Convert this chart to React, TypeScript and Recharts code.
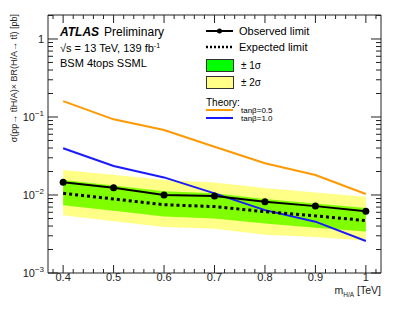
import React from "react";
import { ComposedChart, Line, Area, XAxis, YAxis } from "recharts";

// masses [TeV]
const masses = [0.4, 0.5, 0.6, 0.7, 0.8, 0.9, 1.0];
// limits [pb]
const observed = [0.0146, 0.0124, 0.0100, 0.0097, 0.0082, 0.0072, 0.0062];
const expected = [0.0105, 0.0089, 0.0075, 0.0071, 0.0061, 0.0054, 0.0047];
const plus1 = [0.0156, 0.0132, 0.0112, 0.0105, 0.0089, 0.0078, 0.0068];
const minus1 = [0.0074, 0.0063, 0.0053, 0.0050, 0.0043, 0.0038, 0.0034];
const plus2 = [0.0209, 0.0182, 0.0156, 0.0145, 0.0123, 0.0108, 0.0095];
const minus2 = [0.0055, 0.0046, 0.0039, 0.0037, 0.0031, 0.0029, 0.0026];
// theory
const tanb05 = [0.160, 0.0933, 0.068, 0.0416, 0.0255, 0.018, 0.0103];
const tanb10 = [0.0397, 0.0235, 0.0168, 0.0105, 0.0064, 0.00455, 0.00257];

const xTicks: number[] = [];
for (let i = 19; i <= 51; i++) xTicks.push(i / 50);
const yTicks: number[] = [];
[0.001, 0.01, 0.1, 1].forEach((d) => {
    for (let k = 1; k <= 9; k++) if (d * k <= 2) yTicks.push(d * k);
});

const data = masses.map((m, i) => ({
    m,
    obs: observed[i],
    exp: expected[i],
    band1: [minus1[i], plus1[i]],
    band2: [minus2[i], plus2[i]],
    t05: tanb05[i],
    t10: tanb10[i],
}));

const FONT = "'Liberation Sans', Arial, sans-serif";
const AX = "#222";

const isMajorX = (v: number) => Math.abs(v * 10 - Math.round(v * 10)) < 1e-6 && v >= 0.39 && v <= 1.01;
const isDecade = (v: number) => Math.abs(Math.log10(v) - Math.round(Math.log10(v))) < 1e-6;

const BottomTick = (props: any) => {
    const { x, y, payload } = props;
    const major = isMajorX(payload.value);
    return (
        <g>
            <line x1={x} x2={x} y1={y} y2={y - (major ? 8 : 4)} stroke={AX} strokeWidth={1} />
            {major && (
                <text x={x} y={y + 8} textAnchor="middle" fontSize={11} fill={AX} fontFamily={FONT}>
                    {Math.abs(payload.value - 1) < 1e-6 ? "1" : payload.value.toFixed(1)}
                </text>
            )}
        </g>
    );
};

const TopTick = (props: any) => {
    const { x, y, payload } = props;
    const major = isMajorX(payload.value);
    return <line x1={x} x2={x} y1={y} y2={y + (major ? 8 : 4)} stroke={AX} strokeWidth={1} />;
};

const LeftTick = (props: any) => {
    const { x, y, payload } = props;
    const v = payload.value;
    const major = isDecade(v);
    const exp = Math.round(Math.log10(v));
    return (
        <g>
            <line x1={x} x2={x + (major ? 10 : 5)} y1={y} y2={y} stroke={AX} strokeWidth={1} />
            {major && (
                <text x={x - 4} y={y + 4} textAnchor="end" fontSize={11} fill={AX} fontFamily={FONT}>
                    {exp === 0 ? (
                        "1"
                    ) : (
                        <>
                            10<tspan dy={-5} fontSize={8}>{"\u2212" + -exp}</tspan>
                        </>
                    )}
                </text>
            )}
        </g>
    );
};

const RightTick = (props: any) => {
    const { x, y, payload } = props;
    const major = isDecade(payload.value);
    return <line x1={x} x2={x - (major ? 10 : 5)} y1={y} y2={y} stroke={AX} strokeWidth={1} />;
};

export default function App() {
    return (
        <div style={{ position: "absolute", left: 0, top: 0, width: 402, height: 319, background: "#fff" }}>
            <ComposedChart
                width={402}
                height={319}
                data={data}
                margin={{ top: 14, right: 20, bottom: 45, left: 47 }}
            >
                <XAxis
                    xAxisId="b"
                    dataKey="m"
                    type="number"
                    domain={[0.37, 1.03]}
                    allowDataOverflow
                    ticks={xTicks}
                    interval={0}
                    tick={<BottomTick />}
                    tickLine={false}
                    tickSize={0}
                    tickMargin={0}
                    height={1}
                    stroke={AX}
                />
                <XAxis
                    xAxisId="t"
                    dataKey="m"
                    type="number"
                    orientation="top"
                    domain={[0.37, 1.03]}
                    allowDataOverflow
                    ticks={xTicks}
                    interval={0}
                    tick={<TopTick />}
                    tickLine={false}
                    tickSize={0}
                    tickMargin={0}
                    height={1}
                    stroke={AX}
                />
                <YAxis
                    yAxisId="l"
                    scale="log"
                    type="number"
                    domain={[0.001, 2.03]}
                    allowDataOverflow
                    ticks={yTicks}
                    interval={0}
                    tick={<LeftTick />}
                    tickLine={false}
                    tickSize={0}
                    tickMargin={0}
                    width={1}
                    stroke={AX}
                />
                <YAxis
                    yAxisId="r"
                    orientation="right"
                    scale="log"
                    type="number"
                    domain={[0.001, 2.03]}
                    allowDataOverflow
                    ticks={yTicks}
                    interval={0}
                    tick={<RightTick />}
                    tickLine={false}
                    tickSize={0}
                    tickMargin={0}
                    width={1}
                    stroke={AX}
                />
                <Area xAxisId="b" yAxisId="l" dataKey="band2" type="linear" fill="#ffff88" fillOpacity={1} stroke="none" isAnimationActive={false} />
                <Area xAxisId="b" yAxisId="l" dataKey="band1" type="linear" fill="#80ff00" fillOpacity={1} stroke="none" isAnimationActive={false} />
                <Line xAxisId="b" yAxisId="l" dataKey="t05" type="linear" stroke="#ff9900" strokeWidth={2} dot={false} isAnimationActive={false} />
                <Line xAxisId="b" yAxisId="l" dataKey="t10" type="linear" stroke="#1a1aff" strokeWidth={2} dot={false} isAnimationActive={false} />
                <Line xAxisId="b" yAxisId="l" dataKey="exp" type="linear" stroke="#000" strokeWidth={3} strokeDasharray="3 3" dot={false} isAnimationActive={false} />
                <Line xAxisId="t" yAxisId="r" dataKey="obs" type="linear" stroke="#000" strokeWidth={2} dot={{ r: 3.5, fill: "#000", stroke: "#000", strokeWidth: 0 }} isAnimationActive={false} />
            </ComposedChart>

            <svg width={402} height={319} style={{ position: "absolute", left: 0, top: 0, pointerEvents: "none" }} fontFamily={FONT}>
                {/* experiment label */}
                <text x={60} y={36} fontSize={12} fill="#000">
                    <tspan fontWeight="bold" fontStyle="italic">ATLAS</tspan>
                    <tspan dx={5}>Preliminary</tspan>
                </text>
                <text x={60} y={52} fontSize={11} fill="#000">
                    {"\u221As = 13 TeV, 139 fb"}
                    <tspan dy={-4} fontSize={7}>-1</tspan>
                </text>
                <text x={60} y={67} fontSize={11} fill="#000">BSM 4tops SSML</text>

                {/* legend */}
                <line x1={206} x2={233} y1={31} y2={31} stroke="#000" strokeWidth={2} />
                <circle cx={219.5} cy={31} r={2.5} fill="#000" />
                <text x={239} y={35} fontSize={11}>Observed limit</text>
                <line x1={206} x2={233} y1={47} y2={47} stroke="#000" strokeWidth={2.5} strokeDasharray="2 2" />
                <text x={239} y={51} fontSize={11}>Expected limit</text>
                <rect x={206.5} y={59.5} width={27} height={12} fill="#00ff00" stroke="#333" strokeWidth={1} />
                <text x={241} y={69} fontSize={10}>{"\u00B1 1\u03C3"}</text>
                <rect x={206.5} y={76.5} width={27} height={12} fill="#ffff88" stroke="#333" strokeWidth={1} />
                <text x={241} y={86} fontSize={10}>{"\u00B1 2\u03C3"}</text>
                <text x={206} y={106} fontSize={10}>Theory:</text>
                <line x1={206} x2={233} y1={110} y2={110} stroke="#ff9900" strokeWidth={2} />
                <text x={241} y={113} fontSize={8}>{"tan\u03B2=0.5"}</text>
                <line x1={206} x2={233} y1={118} y2={118} stroke="#1a1aff" strokeWidth={2} />
                <text x={241} y={121} fontSize={8}>{"tan\u03B2=1.0"}</text>

                {/* axis titles */}
                <text
                    transform="translate(17,14) rotate(-90)"
                    textAnchor="end"
                    fontSize={9}
                    fill={AX}
                >
                    {"\u03C3(pp\u2192 tt\u0304H/A)\u00D7 BR(H/A\u2192 tt\u0304) [pb]"}
                </text>
                <text x={381} y={294} textAnchor="end" fontSize={10.5} fill={AX}>
                    m<tspan dy={3} fontSize={6.5}>H/A</tspan>
                    <tspan dy={-3}> [TeV]</tspan>
                </text>
            </svg>
        </div>
    );
}
